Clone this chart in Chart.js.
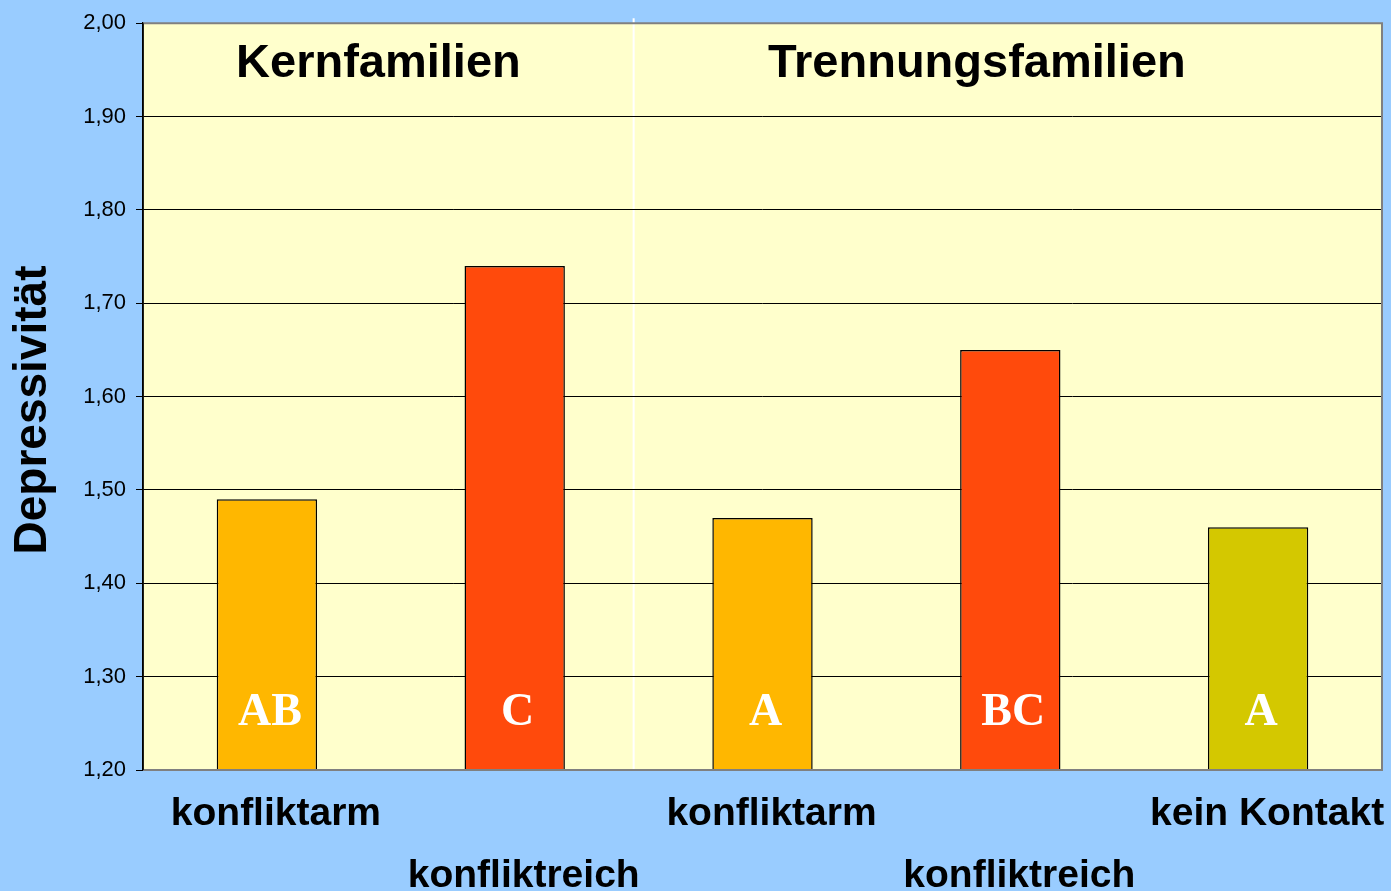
<!DOCTYPE html>
<html>
<head>
<meta charset="utf-8">
<script src="https://cdn.jsdelivr.net/npm/chart.js@4.4.1/dist/chart.umd.min.js"></script>
<style>
html,body{margin:0;padding:0;background:#99CCFF;}
#wrap{width:1391px;height:891px;position:relative;}
</style>
</head>
<body>
<div id="wrap"><canvas id="c" width="1391" height="891"></canvas></div>
<script>
const categories = [['konfliktarm',''], ['','konfliktreich'], ['konfliktarm',''], ['','konfliktreich'], ['kein Kontakt','']];
const values = [1.49, 1.74, 1.47, 1.65, 1.46];
const letters = ['AB', 'C', 'A', 'BC', 'A'];
const groupTitles = ['Kernfamilien', 'Trennungsfamilien'];
const yTitle = 'Depressivität';
const yMin = 1.2, yMax = 2.0, yStep = 0.1;
const barColors = ['#FFB700', '#FF4A0C', '#FFB700', '#FF4A0C', '#D4C800'];

const framePlugin = {
  id: 'frame',
  beforeDraw(chart) {
    const {ctx, chartArea: a} = chart;
    ctx.save();
    ctx.fillStyle = '#FFFFCC';
    ctx.fillRect(a.left, a.top, a.right - a.left, a.bottom - a.top);
    // divider
    const dx = a.left + (a.right - a.left) * 0.396;
    ctx.strokeStyle = '#FFFFFF';
    ctx.lineWidth = 2;
    ctx.beginPath();
    ctx.moveTo(dx, a.top - 5);
    ctx.lineTo(dx, a.bottom);
    ctx.stroke();
    ctx.restore();
  },
  afterDatasetsDraw(chart) {
    const {ctx, chartArea: a} = chart;
    ctx.save();
    ctx.strokeStyle = '#808080';
    ctx.lineWidth = 2;
    ctx.beginPath();
    ctx.moveTo(a.left, a.top);
    ctx.lineTo(a.right, a.top);
    ctx.lineTo(a.right, a.bottom);
    ctx.lineTo(a.left, a.bottom);
    ctx.stroke();
    ctx.strokeStyle = '#000';
    ctx.lineWidth = 1.5;
    ctx.beginPath();
    ctx.moveTo(a.left, a.top);
    ctx.lineTo(a.left, a.bottom);
    ctx.stroke();
    // letters
    const meta = chart.getDatasetMeta(0);
    ctx.fillStyle = '#FFFFFF';
    ctx.font = 'bold 46px "Liberation Serif", serif';
    ctx.textAlign = 'center';
    ctx.textBaseline = 'middle';
    meta.data.forEach((bar, i) => {
      ctx.fillText(letters[i], bar.x + 3, a.bottom - 57);
    });
    // group titles
    ctx.fillStyle = '#000';
    ctx.font = 'bold 47px "Liberation Sans", Arial, sans-serif';
    const w = a.right - a.left;
    ctx.fillText(groupTitles[0], a.left + w * 0.19, 64);
    ctx.fillText(groupTitles[1], a.left + w * 0.673, 64);
    // y title
    ctx.save();
    ctx.translate(33, 410);
    ctx.rotate(-Math.PI / 2);
    ctx.font = 'bold 46px "Liberation Sans", Arial, sans-serif';
    ctx.fillText(yTitle, 0, 0);
    ctx.restore();
    ctx.restore();
  }
};

new Chart(document.getElementById('c'), {
  type: 'bar',
  data: {
    labels: categories,
    datasets: [{
      data: values,
      backgroundColor: barColors,
      borderColor: '#000',
      borderWidth: 1.5,
      borderSkipped: false,
      categoryPercentage: 1.0,
      barPercentage: 0.405
    }]
  },
  options: {
    responsive: false,
    animation: false,
    devicePixelRatio: 1,
    layout: { padding: { top: 19, right: 9, left: 0, bottom: 0 } },
    plugins: { legend: { display: false }, tooltip: { enabled: false } },
    scales: {
      x: {
        grid: { display: false, drawTicks: false },
        border: { display: false },
        ticks: {
          color: '#000',
          font: { family: '"Liberation Sans", Arial, sans-serif', size: 39, weight: 'bold', lineHeight: 1.57 },
          padding: 14,
          labelOffset: 9,
          maxRotation: 0,
          autoSkip: false
        },
        afterFit(s) { s.height = 121; }
      },
      y: {
        min: yMin, max: yMax,
        grid: {
          color: (c) => (c.tick && c.tick.value >= 1.999) ? '#808080' : '#000000',
          lineWidth: 1,
          tickLength: 7,
          tickColor: '#000'
        },
        border: { display: true, color: '#000', width: 1.5 },
        ticks: {
          stepSize: yStep,
          color: '#000',
          padding: 10,
          font: { family: '"Liberation Sans", Arial, sans-serif', size: 22 },
          callback: (v) => v.toFixed(2).replace('.', ',')
        },
        title: { display: false },
        afterFit(s) { s.width = 143; }
      }
    }
  },
  plugins: [framePlugin]
});
</script>
</body>
</html>
